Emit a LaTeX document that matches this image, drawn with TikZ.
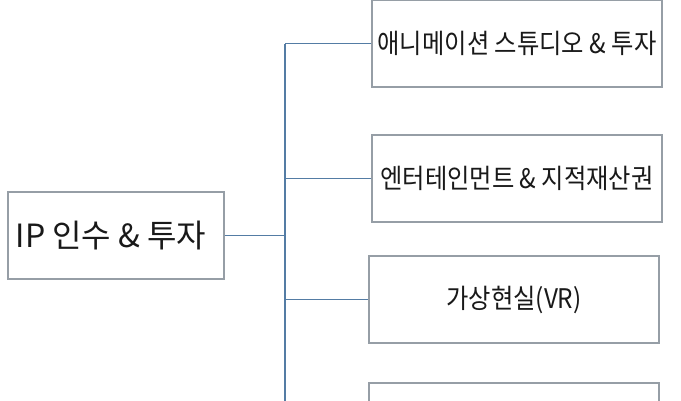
\documentclass[tikz,border=0pt]{standalone}
\usepackage{fontspec}
\usepackage{xcolor}
\usepackage{tikz}
\newfontfamily\krfont{Noto Sans CJK KR}
\newfontfamily\krnarrow[FakeStretch=0.9]{Noto Sans CJK KR}
\definecolor{boxgray}{RGB}{150,158,166}
\definecolor{linkblue}{RGB}{84,124,164}

\begin{document}
\begin{tikzpicture}[x=1pt, y=-1pt,
		box/.style={draw=boxgray, line width=1.3pt, fill=white, minimum width=290pt, minimum height=87pt, inner sep=0pt, font=\krnarrow\fontsize{27}{32}\selectfont, text=black!90},
		rootbox/.style={box, minimum width=216pt, font=\krfont\fontsize{32}{38}\selectfont},
		link/.style={draw=linkblue, line width=1.6pt}]
				\useasboundingbox (0,0) rectangle (681,400);
	
				\node[rootbox] (ip) at (116,235.5) {IP 인수 \& 투자\hspace*{10pt}};
				\node[box] (anim) at (517,43.5) {애니메이션 스튜디오 \& 투자};
				\node[box] (ent) at (517,178.5) {엔터테인먼트 \& 지적재산권};
				\node[box] (vr) at (514,299.5) {가상현실(VR)};
				\node[box] (next) at (514,426.5) {};
	
				\coordinate (bus) at (285,0);
				\draw[link] (ip.east) -- (ip.east -| bus);
				\draw[link] (anim.west -| bus) -- (next.west -| bus);
				\foreach \n in {anim,ent,vr,next}
					\draw[link] (\n.west) -- (\n.west -| bus);
			\end{tikzpicture}
\end{document}
